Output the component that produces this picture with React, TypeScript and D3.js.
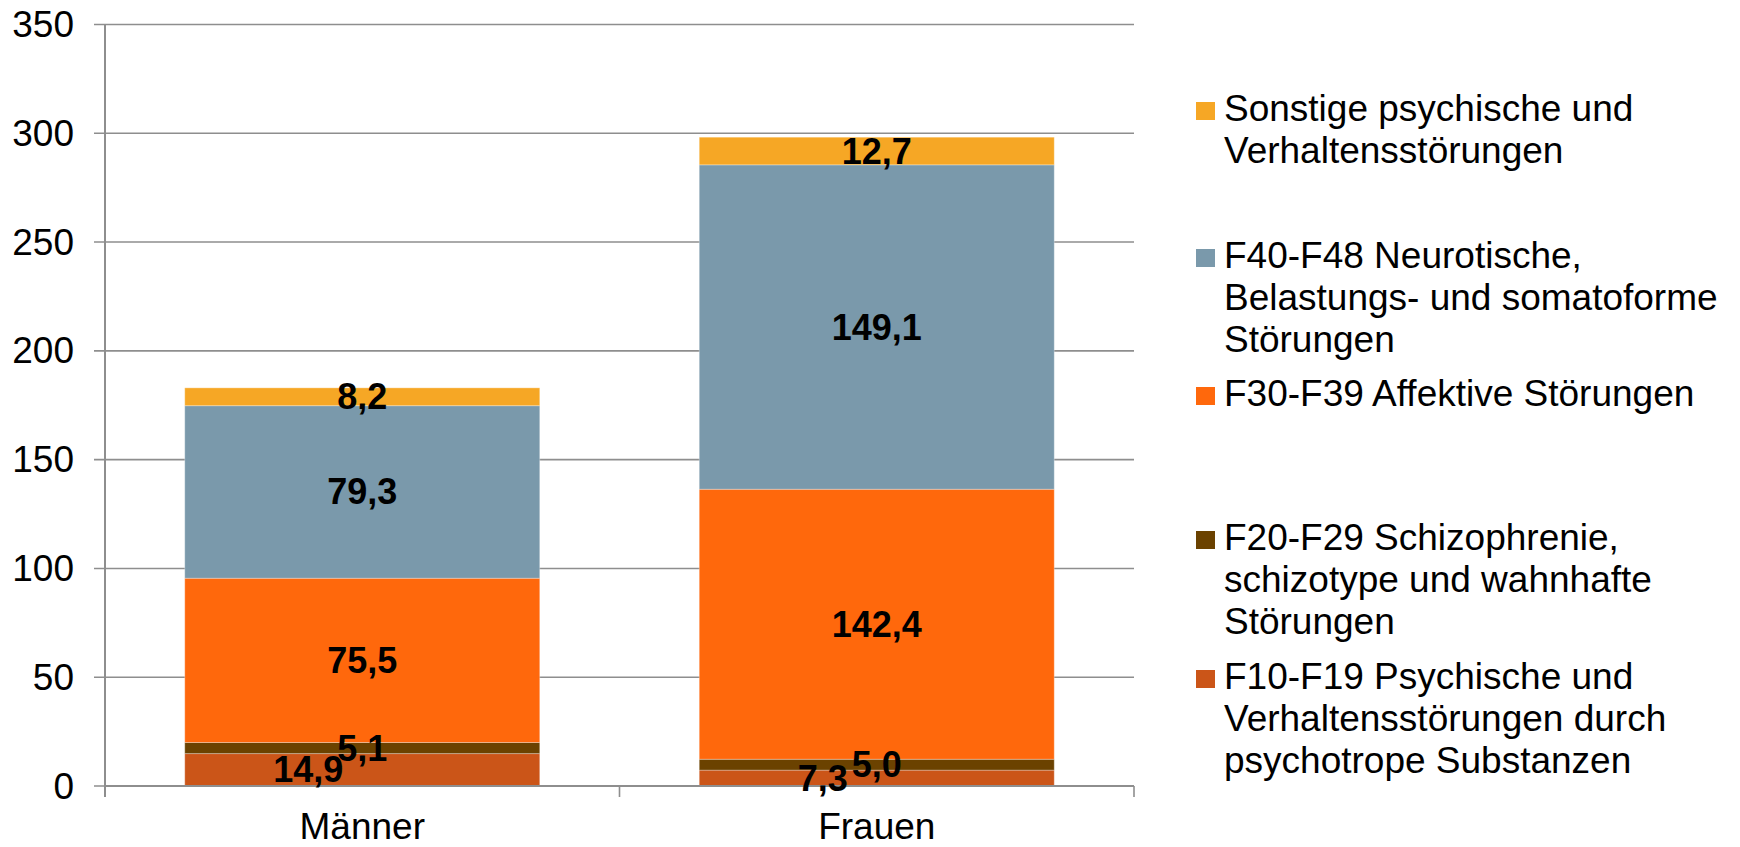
import React from "react";
import * as d3 from "d3";

const categories = ["Männer", "Frauen"];
const seriesNames = [
  "F10-F19 Psychische und Verhaltensstörungen durch psychotrope Substanzen",
  "F20-F29 Schizophrenie, schizotype und wahnhafte Störungen",
  "F30-F39 Affektive Störungen",
  "F40-F48 Neurotische, Belastungs- und somatoforme Störungen",
  "Sonstige psychische und Verhaltensstörungen",
];
// bar heights as drawn in the reference
const f10f19 = [14.9, 7.3];
const f20f29 = [5.1, 5.0];
const f30f39 = [75.5, 124.1];
const f40f48 = [79.3, 149.1];
const sonstige = [8.2, 12.7];
const seriesValues = [f10f19, f20f29, f30f39, f40f48, sonstige];
// data labels as printed in the reference (the Frauen F30-F39 label reads 142,4)
const f10f19Labels = ["14,9", "7,3"];
const f20f29Labels = ["5,1", "5,0"];
const f30f39Labels = ["75,5", "142,4"];
const f40f48Labels = ["79,3", "149,1"];
const sonstigeLabels = ["8,2", "12,7"];
const seriesLabels = [f10f19Labels, f20f29Labels, f30f39Labels, f40f48Labels, sonstigeLabels];
const seriesColors = ["#CB5518", "#6B4200", "#FF680C", "#7A99AB", "#F6A725"];
const yTicks = [0, 50, 100, 150, 200, 250, 300, 350];

// legend: lines per entry (top to bottom, reverse series order)
const legendLines = [
  ["Sonstige psychische und", "Verhaltensstörungen"],
  ["F40-F48 Neurotische,", "Belastungs- und somatoforme", "Störungen"],
  ["F30-F39 Affektive Störungen"],
  ["F20-F29 Schizophrenie,", "schizotype und wahnhafte", "Störungen"],
  ["F10-F19 Psychische und", "Verhaltensstörungen durch", "psychotrope Substanzen"],
];
const legendSeriesIndex = [4, 3, 2, 1, 0];
const legendBaselines = [121, 268, 406, 550, 689];
const legendLineHeight = 42;

const W = 1740;
const H = 847;
const plotLeft = 105;
const plotRight = 1134;
const plotTop = 24.5;
const plotBottom = 786;
const FONT = "'Liberation Sans', Arial, sans-serif";

export default function App() {
  const x = d3.scaleBand<string>().domain(categories).range([plotLeft, plotRight]).padding(0);
  const y = d3.scaleLinear().domain([0, 350]).range([plotBottom, plotTop]);
  const barW = x.bandwidth() * 0.69;

  const table = categories.map((c, i) => {
    const row: any = { cat: c };
    seriesValues.forEach((s, k) => (row["s" + k] = s[i]));
    return row;
  });
  const stack = d3.stack<any>().keys(seriesValues.map((_, k) => "s" + k));
  const stacked = stack(table);

  const gridColor = "#8E8E8E";

  return (
    <svg width={W} height={H} style={{ position: "absolute", left: 0, top: 0, background: "#fff" }} fontFamily={FONT}>
      {/* gridlines */}
      {yTicks.map((t) => (
        <line key={"g" + t} x1={plotLeft - 11} x2={plotRight} y1={y(t)} y2={y(t)} stroke={gridColor} strokeWidth={1.6} />
      ))}
      {/* y tick labels */}
      {yTicks.map((t) => (
        <text key={"yt" + t} x={74} y={y(t)} textAnchor="end" dominantBaseline="central" fontSize={37} fill="#000">
          {t}
        </text>
      ))}
      {/* bars */}
      {stacked.map((layer, k) =>
        layer.map((d, i) => {
          const cx = (x(categories[i]) as number) + x.bandwidth() / 2;
          return (
            <rect
              key={"b" + k + "-" + i}
              x={cx - barW / 2}
              y={y(d[1])}
              width={barW}
              height={y(d[0]) - y(d[1])}
              fill={seriesColors[k]}
              stroke="#ffffff"
              strokeOpacity={0.3}
              strokeWidth={1}
            />
          );
        })
      )}
      {/* axes */}
      <line x1={plotLeft} x2={plotLeft} y1={plotTop} y2={plotBottom + 11} stroke={gridColor} strokeWidth={2} />
      <line x1={plotLeft} x2={plotRight} y1={plotBottom} y2={plotBottom} stroke={gridColor} strokeWidth={2} />
      {[0, 1, 2].map((j) => (
        <line
          key={"xt" + j}
          x1={plotLeft + j * x.step()}
          x2={plotLeft + j * x.step()}
          y1={plotBottom}
          y2={plotBottom + 11}
          stroke={gridColor}
          strokeWidth={1.6}
        />
      ))}
      {/* category labels */}
      {categories.map((c) => (
        <text
          key={"c" + c}
          x={(x(c) as number) + x.bandwidth() / 2}
          y={839}
          textAnchor="middle"
          fontSize={37}
          fill="#000"
        >
          {c}
        </text>
      ))}
      {/* value labels */}
      {stacked.map((layer, k) =>
        layer.map((d, i) => {
          const cx = (x(categories[i]) as number) + x.bandwidth() / 2 + (k === 0 ? -54 : 0);
          const cy = (y(d[0]) + y(d[1])) / 2;
          return (
            <text
              key={"l" + k + "-" + i}
              x={cx}
              y={cy}
              textAnchor="middle"
              dominantBaseline="central"
              fontSize={36}
              fontWeight="bold"
              fill="#000"
            >
              {seriesLabels[k][i]}
            </text>
          );
        })
      )}
      {/* legend */}
      {legendLines.map((lines, j) => (
        <g key={"lg" + j}>
          <rect x={1196} y={legendBaselines[j] - 19} width={19} height={18} fill={seriesColors[legendSeriesIndex[j]]} />
          {lines.map((ln, m) => (
            <text key={m} x={1224} y={legendBaselines[j] + m * legendLineHeight} fontSize={37} fill="#000">
              {ln}
            </text>
          ))}
        </g>
      ))}
    </svg>
  );
}
